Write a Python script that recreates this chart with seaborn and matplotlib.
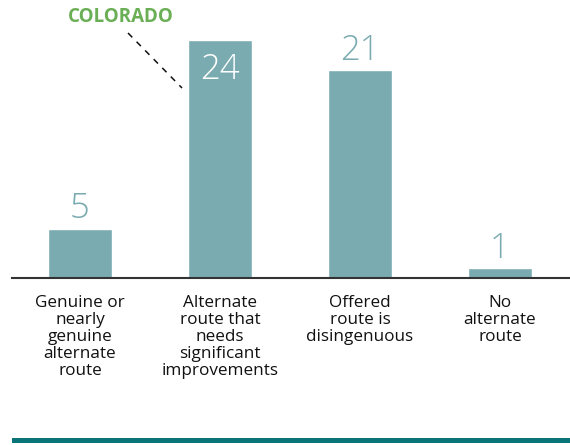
import matplotlib
matplotlib.use("Agg")
import matplotlib.pyplot as plt
import seaborn as sns
import pandas as pd
from matplotlib.lines import Line2D
from matplotlib.patches import Rectangle
from matplotlib.transforms import offset_copy

categories = ["Genuine or\nnearly\ngenuine\nalternate\nroute",
              "Alternate\nroute that\nneeds\nsignificant\nimprovements",
              "Offered\nroute is\ndisingenuous",
              "No\nalternate\nroute"]
values = [5, 24, 21, 1]
annotation = "COLORADO"

bar_color = "#7aabb0"
green = "#6aae55"
band_color = "#0b7479"

sns.set_theme(style="white")
plt.rcParams['font.family'] = ['Open Sans', 'DejaVu Sans']

W, H = 570, 445
fig = plt.figure(figsize=(W/100, H/100), dpi=100)
base_px = 278
px_per_unit = 9.9
ax = fig.add_axes([12/W, (H-base_px)/H, 1-12/W, base_px/H])

df = pd.DataFrame({"cat": categories, "val": values})
sns.barplot(data=df, x="cat", y="val", color=bar_color, saturation=1,
            width=0.457, ax=ax)
ax.set_xlim(-68/140, 490/140)
ax.set_ylim(0, base_px/px_per_unit)
ax.set_xlabel("")
ax.set_ylabel("")
ax.set_yticks([])
for s in ["top", "right", "left"]:
    ax.spines[s].set_visible(False)
ax.spines["bottom"].set_color("#333333")
ax.spines["bottom"].set_linewidth(1.5)
ax.tick_params(axis="x", length=0, pad=12)
ax.set_xticks(range(len(categories)))
ax.set_xticklabels(categories, fontsize=12.3, color="#111111",
                   linespacing=1.1, va="top", ha="center", multialignment="center")

for i, v in enumerate(values):
    if v == max(values):
        ax.text(i, v, str(v), ha="center", va="top", color="white",
                fontsize=25, fontweight="light",
                transform=offset_copy(ax.transData, fig=fig, x=0, y=-12, units="dots"))
    else:
        ax.text(i, v, str(v), ha="center", va="baseline", color=bar_color,
                fontsize=25, fontweight="light",
                transform=offset_copy(ax.transData, fig=fig, x=0, y=10, units="dots"))

# Annotation
fig.text(121/W, 1-17/H, annotation, color=green, fontsize=13.5, fontweight="bold",
         ha="center", va="center")
fig.add_artist(Line2D([128/W, 182/W], [1-33/H, 1-88/H], color="#111111",
                      linestyle=(0, (4, 4)), linewidth=1.1))

# Bottom band
fig.add_artist(Rectangle((12/W, (H-443)/H), 1-12/W, 5/H, transform=fig.transFigure,
                         color=band_color, linewidth=0))

fig.savefig("out.png", dpi=100)
